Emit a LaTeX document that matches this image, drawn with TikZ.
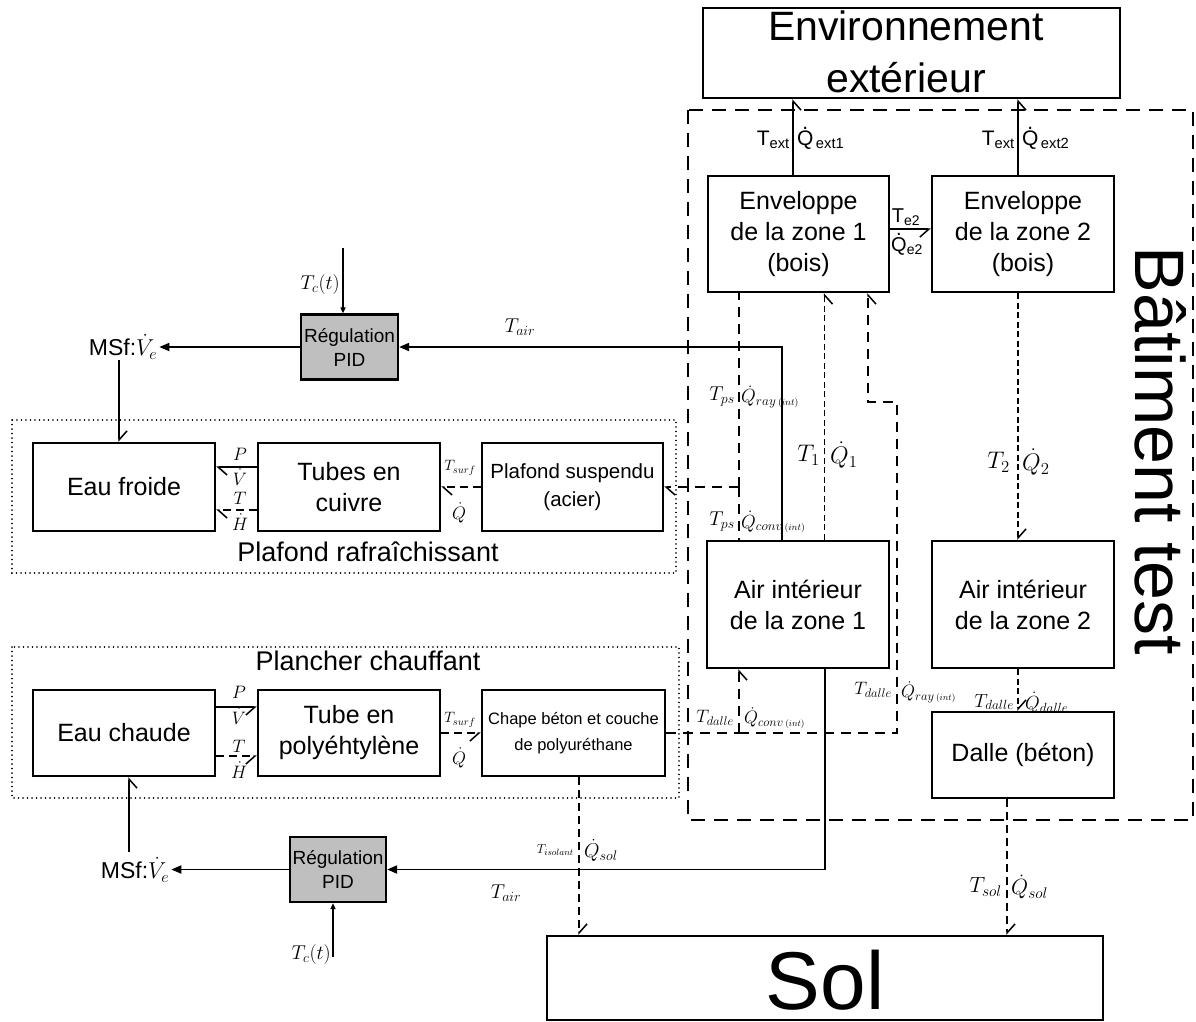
\RequirePackage{fix-cm}
\documentclass[tikz,border=0pt]{standalone}
\usepackage[no-math]{fontspec}
\setmainfont{Liberation Sans}
\usetikzlibrary{arrows.meta,calc}
\newcommand\Qd{\ooalign{Q\cr\hidewidth\raisebox{0.78em}{.}\hidewidth\cr}}
\newcommand\fs[1]{\fontsize{#1}{#1}\selectfont}
\begin{document}
\begin{tikzpicture}[x=1pt,y=-1pt,
 box/.style={draw,line width=2.2pt,inner sep=0pt,align=center,font=\fontsize{25}{31}\selectfont},
 pid/.style={box,fill=black!25,font=\fontsize{19}{24}\selectfont},
 sline/.style={line width=1.8pt},
 dl/.style={line width=1.8pt,dash pattern=on 10pt off 7pt},
 dm/.style={line width=1.8pt,dash pattern=on 8pt off 5pt},
 ds/.style={line width=1.6pt,dash pattern=on 6pt off 3.5pt},
 dotbox/.style={line width=1.6pt,dash pattern=on 0.1pt off 4.4pt,line cap=round},
 harpL/.style={-{Straight Barb[harpoon,length=9pt,width=16pt,line width=1.5pt]}},
 harpR/.style={-{Straight Barb[harpoon,swap,length=9pt,width=16pt,line width=1.5pt]}},
 arr/.style={-{Triangle[length=10pt,width=8pt]}},
 tip/.style={-{Triangle[length=6pt,width=5pt]}},
 lab/.style={inner sep=0pt},
]
\fill[white] (0,0) rectangle (1196,1021);
\useasboundingbox (0,0) rectangle (1196,1021);

% frames
\draw[line width=2pt,dash pattern=on 14pt off 9pt] (688,110) rectangle (1193,820);
\draw[dotbox] (12,420) rectangle (676,573);
\draw[dotbox] (12,647) rectangle (679,798);
\node[lab,font=\fs{27}] (tplaf) at (368,552) {Plafond rafraîchissant};
\node[lab,font=\fs{27}] (tplan) at (368,661) {Plancher chauffant};
\node[rotate=-90,anchor=base,font=\fs{70},inner sep=0pt] (tbat) at (1135,451) {Bâtiment test};

% boxes
\node[box,minimum width=417pt,minimum height=90pt] (env) at (911.5,53) {};
\node[lab,anchor=base,font=\fs{41}] (envt1) at (906,40) {Environnement};
\node[lab,anchor=base,font=\fs{41}] (envt2) at (906,92) {extérieur};
\node[box,minimum width=181pt,minimum height=116pt] (env1) at (798.5,234) {Enveloppe\\de la zone 1\\(bois)};
\node[box,minimum width=182pt,minimum height=116pt] (env2) at (1023,234) {Enveloppe\\de la zone 2\\(bois)};
\node[box,minimum width=182pt,minimum height=127pt] (air1) at (798,604.5) {Air intérieur\\de la zone 1};
\node[box,minimum width=182pt,minimum height=127pt] (air2) at (1023,604.5) {Air intérieur\\de la zone 2};
\node[box,minimum width=182pt,minimum height=86pt] (dalle) at (1023,755) {Dalle (béton)};
\node[box,minimum width=556pt,minimum height=84pt] (sol) at (825,978) {};
\node[lab,anchor=base,font=\fs{82}] (solt) at (825,1009) {Sol};

\node[box,minimum width=182pt,minimum height=88pt] (efr) at (124,487) {Eau froide};
\node[box,minimum width=182pt,minimum height=88pt] (tcu) at (349,487) {Tubes en\\cuivre};
\node[box,minimum width=181pt,minimum height=88pt,font=\fontsize{20.5}{28}\selectfont] (plaf) at (572.5,487) {Plafond suspendu\\(acier)};
\node[box,minimum width=182pt,minimum height=86pt] (ech) at (124,733) {Eau chaude};
\node[box,minimum width=182pt,minimum height=86pt] (tpe) at (349,733) {Tube en\\polyéhtylène};
\node[box,minimum width=183pt,minimum height=86pt,font=\fontsize{16.5}{26}\selectfont] (chape) at (573.5,733) {Chape béton et couche\\de polyuréthane};

\node[pid,minimum width=97pt,minimum height=65pt] (pidt) at (349.5,347) {Régulation\\PID};
\node[pid,minimum width=96pt,minimum height=65pt] (pidb) at (338,869.5) {Régulation\\PID};
\node[inner sep=2pt,font=\fs{23}] (msft) at (123,347) {MSf:$\dot{V}_e$};
\node[inner sep=2pt,font=\fs{23}] (msfb) at (135,870) {MSf:$\dot{V}_e$};

% C1, C2
\coordinate (c1) at ([xshift=-5.5pt]env1.north);
\draw[sline,harpR] (c1) -- (c1 |- env.south);
\node[lab,anchor=east,font=\fs{21}] at (790,140) {T\textsubscript{ext}};
\node[lab,anchor=west,font=\fs{21}] at (797,140) {\Qd\textsubscript{\,ext1}};
\coordinate (c2) at ([xshift=-5pt]env2.north);
\draw[sline,harpR] (c2) -- (c2 |- env.south);
\node[lab,anchor=east,font=\fs{21}] at (1015,140) {T\textsubscript{ext}};
\node[lab,anchor=west,font=\fs{21}] at (1022,140) {\Qd\textsubscript{\,ext2}};
% C3
\coordinate (c3) at ([yshift=5pt]env1.east);
\draw[sline,harpR] (c3) -- (c3 -| env2.west);
\node[lab,font=\fs{20}] at (906,217) {T\textsubscript{e2}};
\node[lab,font=\fs{20}] at (907,246) {\Qd\textsubscript{e2}};
% C4
\coordinate (c4) at ([xshift=26.5pt]air1.north);
\draw[ds,harpR] (c4) -- (c4 |- env1.south);
\node[lab,anchor=east,font=\fs{24}] at (820,455) {$T_1$};
\node[lab,anchor=west,font=\fs{24}] at (830,455) {$\dot{Q}_1$};
% C5 junction Tps
\coordinate (jps) at (739,487);
\draw[dl,harpL] (jps) -- (plaf.east);
\draw[dl] (jps) -- (jps |- env1.south);
\draw[dl] (jps) -- (jps |- air1.north);
\node[lab,anchor=east,font=\fs{20}] at (735,397) {$T_{ps}$};
\node[lab,anchor=west,font=\fs{19}] at (741,397) {$\dot{Q}_{ray\,\scriptscriptstyle(int)}$};
\node[lab,anchor=east,font=\fs{20}] at (735,522) {$T_{ps}$};
\node[lab,anchor=west,font=\fs{19}] at (741,522) {$\dot{Q}_{conv\,\scriptscriptstyle(int)}$};
% C6 T_air top
\coordinate (c6) at ([xshift=-16pt]air1.north);
\draw[sline,arr] (c6) |- (pidt.east);
\node[lab,font=\fs{20}] at (520,327) {$T_{air}$};
% C7
\draw[sline,arr] (pidt.west) -- (pidt.west -| msft.east);
% C8
\coordinate (tct) at (343,248);
\draw[sline,tip] (tct) -- (tct |- pidt.north);
\node[lab,anchor=east,font=\fs{20}] at (340,284) {$T_c(t)$};
% C9
\coordinate (m9) at (119,360);
\draw[sline,harpL] (m9) -- (m9 |- efr.north);
% C10, C11
\coordinate (c10) at ([yshift=20pt]tcu.west);
\draw[sline,harpL] (c10) -- (c10 -| efr.east);
\node[lab,font=\fs{18}] at (240,454) {$P$};
\node[lab,font=\fs{18}] at (240,477) {$\dot{V}$};
\coordinate (c11) at ([yshift=-23pt]tcu.west);
\draw[dm,harpL] (c11) -- (c11 -| efr.east);
\node[lab,font=\fs{18}] at (240,498) {$T$};
\node[lab,font=\fs{18}] at (240,522) {$\dot{H}$};
% C12
\draw[dm,harpL] (plaf.west) -- (tcu.east);
\node[lab,font=\fs{15}] at (460,468) {$T_{surf}$};
\node[lab,font=\fs{18}] at (459,513) {$\dot{Q}$};
% C13, C14
\coordinate (c13) at ([yshift=26pt]ech.east);
\draw[sline,harpR] (c13) -- (c13 -| tpe.west);
\node[lab,font=\fs{18}] at (239,692) {$P$};
\node[lab,font=\fs{18}] at (239,716) {$\dot{V}$};
\coordinate (c14) at ([yshift=-23pt]ech.east);
\draw[dm,harpR] (c14) -- (c14 -| tpe.west);
\node[lab,font=\fs{18}] at (239,746) {$T$};
\node[lab,font=\fs{18}] at (239,770) {$\dot{H}$};
% C15
\draw[dm,harpR] (tpe.east) -- (chape.west);
\node[lab,font=\fs{15}] at (460,720) {$T_{surf}$};
\node[lab,font=\fs{18}] at (459,758) {$\dot{Q}$};
% C16
\coordinate (jd) at (739,733);
\coordinate (st1) at (897,733);
\coordinate (st2) at (868,402);
\draw[dl] (chape.east) -- (jd);
\draw[dl,harpR] (jd) -- (jd |- air1.south);
\draw[dl,harpR] (jd) -- (st1) |- (st2) -- (st2 |- env1.south);
\node[lab,anchor=east,font=\fs{18}] at (734,718) {$T_{dalle}$};
\node[lab,anchor=west,font=\fs{18}] at (744,718) {$\dot{Q}_{conv\,\scriptscriptstyle(int)}$};
\node[lab,anchor=east,font=\fs{18}] at (892,690) {$T_{dalle}$};
\node[lab,anchor=west,font=\fs{18}] at (901,692) {$\dot{Q}_{ray\,\scriptscriptstyle(int)}$};
% C17
\coordinate (c17) at ([xshift=-5pt]air2.south);
\draw[ds,harpL] (c17) -- (c17 |- dalle.north);
\node[lab,anchor=east,font=\fs{19}] at (1014,702) {$T_{dalle}$};
\node[lab,anchor=west,font=\fs{19}] at (1025,703) {$\dot{Q}_{dalle}$};
% C18
\coordinate (c18) at ([xshift=-5pt]env2.south);
\draw[ds,harpL] (c18) -- (c18 |- air2.north);
\node[lab,anchor=east,font=\fs{24}] at (1010,462) {$T_2$};
\node[lab,anchor=west,font=\fs{24}] at (1022,462) {$\dot{Q}_2$};
% C19
\coordinate (c19) at ([xshift=-16pt]dalle.south);
\draw[dm,harpL] (c19) -- (c19 |- sol.north);
\node[lab,anchor=east,font=\fs{22}] at (1002,887) {$T_{sol}$};
\node[lab,anchor=west,font=\fs{22}] at (1011,887) {$\dot{Q}_{sol}$};
% C20
\coordinate (c20) at ([xshift=5.5pt]chape.south);
\draw[dm,harpL] (c20) -- (c20 |- sol.north);
\node[lab,anchor=east,font=\fs{13}] at (574,850) {$T_{isolant}$};
\node[lab,anchor=west,font=\fs{20}] at (584,850) {$\dot{Q}_{sol}$};
% C21
\coordinate (c21) at ([xshift=27pt]air1.south);
\draw[sline,arr] (c21) |- (pidb.east);
\node[lab,font=\fs{20}] at (506,893) {$T_{air}$};
% C22
\draw[sline,arr] (pidb.west) -- (pidb.west -| msfb.east);
% C23
\coordinate (tcb) at (333,957);
\draw[sline,tip] (tcb) -- (tcb |- pidb.south);
\node[lab,anchor=east,font=\fs{20}] at (331,954) {$T_c(t)$};
% C24
\coordinate (m24) at (129,852);
\draw[sline,harpR] (m24) -- (m24 |- ech.south);
\end{tikzpicture}
\end{document}
